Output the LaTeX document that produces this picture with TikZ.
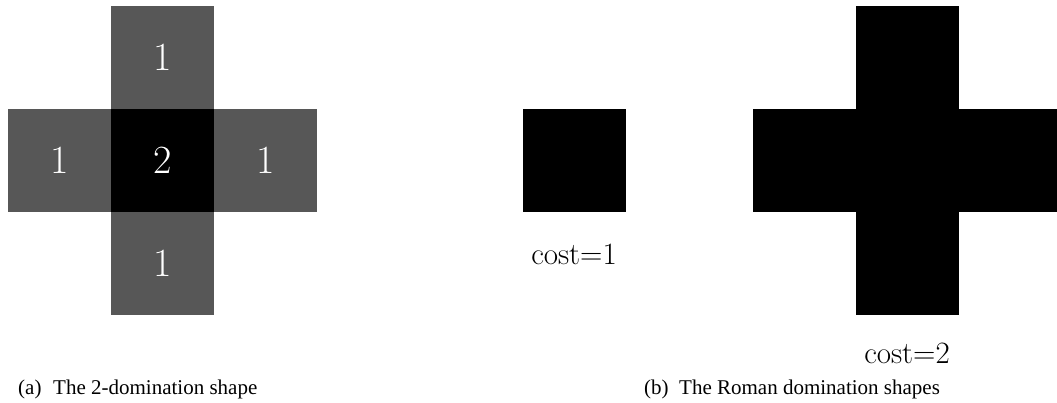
\documentclass[tikz,border=0pt]{standalone}
\usepackage{fontspec}
\newfontfamily\capfont{Liberation Serif}
\definecolor{cellgray}{HTML}{575757}
\tikzset{
  cell/.style={draw=none, fill=cellgray, minimum size=103pt, inner sep=0pt, outer sep=0pt,
    text=white, font=\fontsize{40}{48}\selectfont},
  darkcell/.style={cell, fill=black},
  blackcell/.style={draw=none, fill=black, minimum size=103pt, inner sep=0pt, outer sep=0pt},
  costlabel/.style={inner sep=0pt, font=\fontsize{31}{37}\selectfont},
  caplabel/.style={inner sep=0pt, font=\capfont\fontsize{21}{25}\selectfont},
}
\begin{document}
\begin{tikzpicture}[x=1pt, y=-1pt]
\useasboundingbox (0,0) rectangle (1057,403);
% (a) 2-domination shape
\node[darkcell] (c) at (162.5,160.5) {2};
\node[cell] (t) at (162.5,57.5) {1};
\node[cell] (b) at (162.5,263.5) {1};
\node[cell] (l) at (59.5,160.5) {1};
\node[cell] (r) at (265.5,160.5) {1};
\node[caplabel, anchor=base west] (capa1) at (18,394) {(a)};
\node[caplabel, anchor=base west] (capa2) at (53,394) {The 2-domination shape};
% (b) Roman domination shapes
\node[blackcell] (s) at (574.5,160.5) {};
\node[costlabel, anchor=base] (cost1) at (574,265) {cost=1};
\begin{scope}
  \clip (0,0) rectangle (1057,403);
  \node[blackcell] (rc) at (907.5,160.5) {};
  \node[blackcell] (rt) at (907.5,57.5) {};
  \node[blackcell] (rb) at (907.5,263.5) {};
  \node[blackcell] (rl) at (804.5,160.5) {};
  \node[blackcell] (rr) at (1010.5,160.5) {};
\end{scope}
\node[costlabel, anchor=base] (cost2) at (907,363) {cost=2};
\node[caplabel, anchor=base west] (capb1) at (644,394) {(b)};
\node[caplabel, anchor=base west] (capb2) at (679,394) {The Roman domination shapes};
\end{tikzpicture}
\end{document}
